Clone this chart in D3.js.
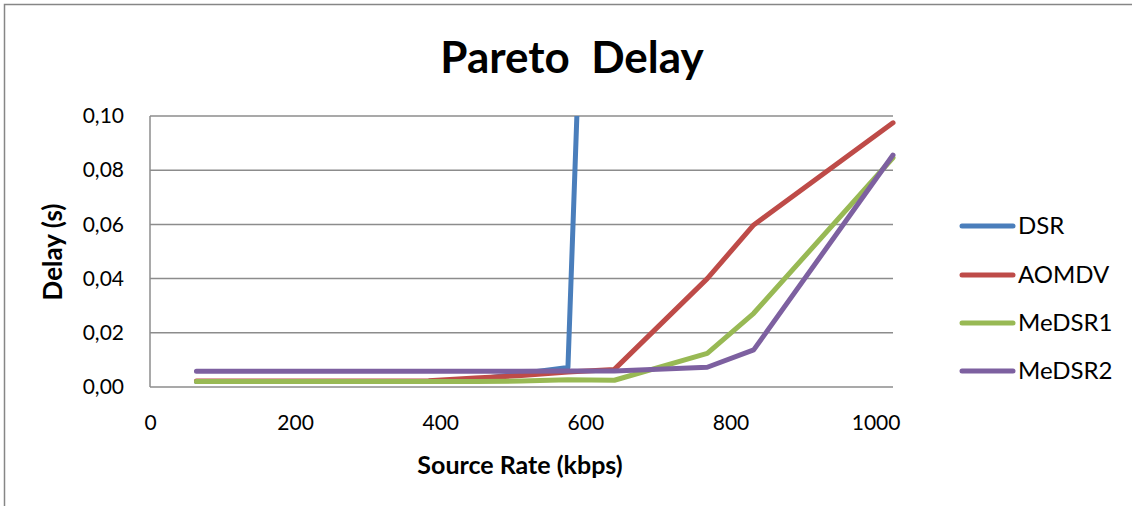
<!DOCTYPE html>
<html>
<head>
<meta charset="utf-8">
<script src="https://cdn.jsdelivr.net/npm/d3@7"></script>
<style>
  html, body { margin: 0; padding: 0; background: #fff; }
  svg { display: block; font-family: Lato, "Open Sans", sans-serif; }
</style>
</head>
<body>
<svg id="chart" width="1132" height="506"></svg>
<script>
// Source rates (kbps) at which delay was measured
const sourceRate = [64, 128, 256, 320, 384, 448, 512, 576, 640, 768, 832, 1024];

// Average end-to-end delay (s) per protocol; null = not measured / off scale
const dsr    = [0.0020, 0.0020, 0.0020, 0.0020, 0.0021, 0.0028, 0.0050, 0.0072, 0.49, null, null, null];
const aomdv  = [0.0022, 0.0022, 0.0022, 0.0022, 0.0023, 0.0033, 0.0042, 0.0055, 0.0065, 0.0400, 0.0598, 0.0975];
const medsr1 = [0.0020, 0.0020, 0.0020, 0.0020, 0.0020, 0.0020, 0.0022, 0.0027, 0.0025, 0.0124, 0.0272, 0.0846];
const medsr2 = [0.0058, 0.0058, 0.0058, 0.0058, 0.0058, 0.0058, 0.0058, 0.0059, 0.0059, 0.0073, 0.0137, 0.0856];

const seriesNames  = ["DSR", "AOMDV", "MeDSR1", "MeDSR2"];
const seriesColors = ["#4a7ebb", "#be4b48", "#98b954", "#7d60a0"];
const seriesValues = [dsr, aomdv, medsr1, medsr2];

const xTicks = [0, 200, 400, 600, 800, 1000];
const yTicks = [0, 0.02, 0.04, 0.06, 0.08, 0.10];

const svg = d3.select("#chart");
const W = 1132, H = 506;

// outer chart frame (left and top edges visible)
svg.append("path")
  .attr("d", `M4.5,${H} L4.5,4.5 L${W},4.5`)
  .attr("fill", "none").attr("stroke", "#868686").attr("stroke-width", 1.5);

const plot = { left: 150, right: 893, top: 116, bottom: 387 };

const x = d3.scaleLinear().domain([0, 1024]).range([plot.left, plot.right]);
const y = d3.scaleLinear().domain([0, 0.10]).range([plot.bottom, plot.top]);

const fmtY = v => d3.format(".2f")(v).replace(".", ",");

// horizontal gridlines
svg.append("g").selectAll("line").data(yTicks).join("line")
  .attr("x1", plot.left).attr("x2", plot.right)
  .attr("y1", d => y(d)).attr("y2", d => y(d))
  .attr("stroke", "#8c8c8c").attr("stroke-width", 1.5);

// vertical axis line
svg.append("line")
  .attr("x1", plot.left).attr("x2", plot.left)
  .attr("y1", plot.top).attr("y2", plot.bottom)
  .attr("stroke", "#8c8c8c").attr("stroke-width", 1.5);

// y axis labels
const yAxis = d3.axisLeft(y).tickValues(yTicks).tickFormat(fmtY).tickSize(0).tickPadding(26);
const gy = svg.append("g").attr("transform", `translate(${plot.left},0)`).call(yAxis);
gy.select(".domain").remove();
gy.selectAll("text").attr("font-size", 21).attr("fill", "#000").attr("font-family", "Lato, sans-serif");

// x axis labels
const xAxis = d3.axisBottom(x).tickValues(xTicks).tickFormat(d3.format("d")).tickSize(0).tickPadding(28);
const gx = svg.append("g").attr("transform", `translate(0,${plot.bottom})`).call(xAxis);
gx.select(".domain").remove();
gx.selectAll("text").attr("font-size", 21).attr("fill", "#000").attr("font-family", "Lato, sans-serif");

// clip series to the plot area
svg.append("clipPath").attr("id", "plotClip")
  .append("rect")
  .attr("x", plot.left - 10).attr("y", plot.top)
  .attr("width", plot.right - plot.left + 20).attr("height", plot.bottom - plot.top + 10);

const line = d3.line()
  .defined(d => d.v != null)
  .x(d => x(d.r))
  .y(d => y(d.v));

const gLines = svg.append("g").attr("clip-path", "url(#plotClip)");
seriesValues.forEach((vals, i) => {
  const pts = sourceRate.map((r, k) => ({ r, v: vals[k] }));
  gLines.append("path")
    .datum(pts)
    .attr("d", line)
    .attr("fill", "none")
    .attr("stroke", seriesColors[i])
    .attr("stroke-width", 5)
    .attr("stroke-linejoin", "round")
    .attr("stroke-linecap", "round");
});

// title
svg.append("text")
  .attr("x", 572).attr("y", 73)
  .attr("text-anchor", "middle")
  .attr("font-size", 44).attr("font-weight", "bold")
  .attr("xml:space", "preserve")
  .style("white-space", "pre")
  .text("Pareto  Delay");

// axis titles
svg.append("text")
  .attr("x", 520).attr("y", 474)
  .attr("text-anchor", "middle")
  .attr("font-size", 25).attr("font-weight", "bold")
  .text("Source Rate (kbps)");

svg.append("text")
  .attr("transform", "translate(62,252) rotate(-90)")
  .attr("text-anchor", "middle")
  .attr("font-size", 26).attr("font-weight", "bold")
  .text("Delay (s)");

// legend
const legendY = [226, 275, 323, 371];
const lg = svg.append("g");
seriesNames.forEach((name, i) => {
  lg.append("line")
    .attr("x1", 962).attr("x2", 1013)
    .attr("y1", legendY[i]).attr("y2", legendY[i])
    .attr("stroke", seriesColors[i]).attr("stroke-width", 5)
    .attr("stroke-linecap", "round");
  lg.append("text")
    .attr("x", 1018).attr("y", legendY[i])
    .attr("dy", "0.35em")
    .attr("font-size", 24)
    .text(name);
});
</script>
</body>
</html>
